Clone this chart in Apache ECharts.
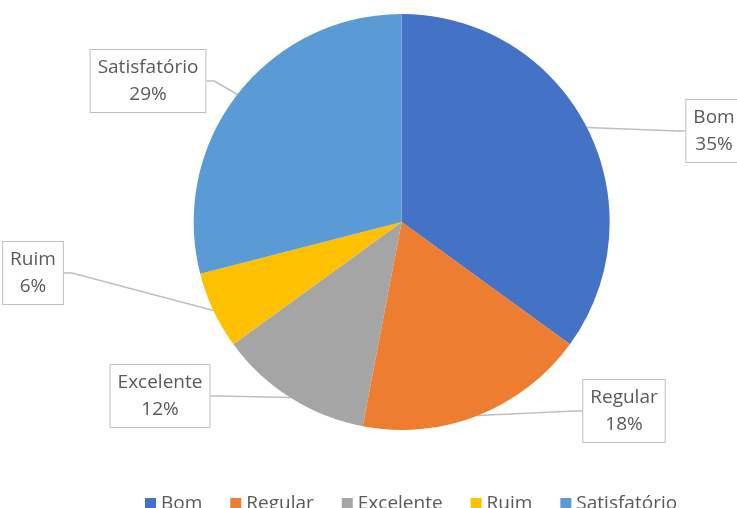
<!DOCTYPE html>
<html>
<head>
<meta charset="utf-8">
<script src="https://cdn.jsdelivr.net/npm/echarts@6/dist/echarts.min.js"></script>
<style>
  html,body{margin:0;padding:0;background:#fff;}
  #main{width:737px;height:508px;}
</style>
</head>
<body>
<div id="main"></div>
<script>
// categories and shares (percent)
var categories = ['Bom', 'Regular', 'Excelente', 'Ruim', 'Satisfatório'];
var values = [35, 18, 12, 6, 29];
var colors = ['#4472C4', '#ED7D31', '#A5A5A5', '#FFC000', '#5B9BD5'];

// where each callout box sits
var labelAt = [[714, 131], [624, 411], [160, 396], [33, 273], [148, 81]];

var chart = echarts.init(document.getElementById('main'));

var option = {
  backgroundColor: '#fff',
  color: colors,
  textStyle: {fontFamily: 'Open Sans, Noto Sans, sans-serif'},
  legend: {
    data: categories,
    top: 489,
    left: 140,
    icon: 'rect',
    itemWidth: 11,
    itemHeight: 11,
    itemGap: 28,
    textStyle: {color: '#595959', fontSize: 19}
  },
  series: [{
    type: 'pie',
    center: ['54.5%', '43.7%'],
    radius: 208,
    startAngle: 90,
    data: categories.map(function (name, i) {
      return {name: name, value: values[i]};
    }),
    label: {
      show: true,
      formatter: '{b}\n{d}%',
      color: '#595959',
      fontSize: 19,
      lineHeight: 27,
      align: 'center',
      backgroundColor: '#fff',
      borderColor: '#BFBFBF',
      borderWidth: 1,
      padding: [4, 7]
    },
    labelLine: {
      show: true,
      length: 8,
      length2: 8,
      smooth: false,
      lineStyle: {color: '#BFBFBF', width: 1.5}
    },
    labelLayout: function (params) {
      var p = labelAt[params.dataIndex];
      return {x: p[0], y: p[1], align: 'center', verticalAlign: 'middle'};
    },
    emphasis: {disabled: true}
  }]
};

chart.setOption(option);
</script>
</body>
</html>
